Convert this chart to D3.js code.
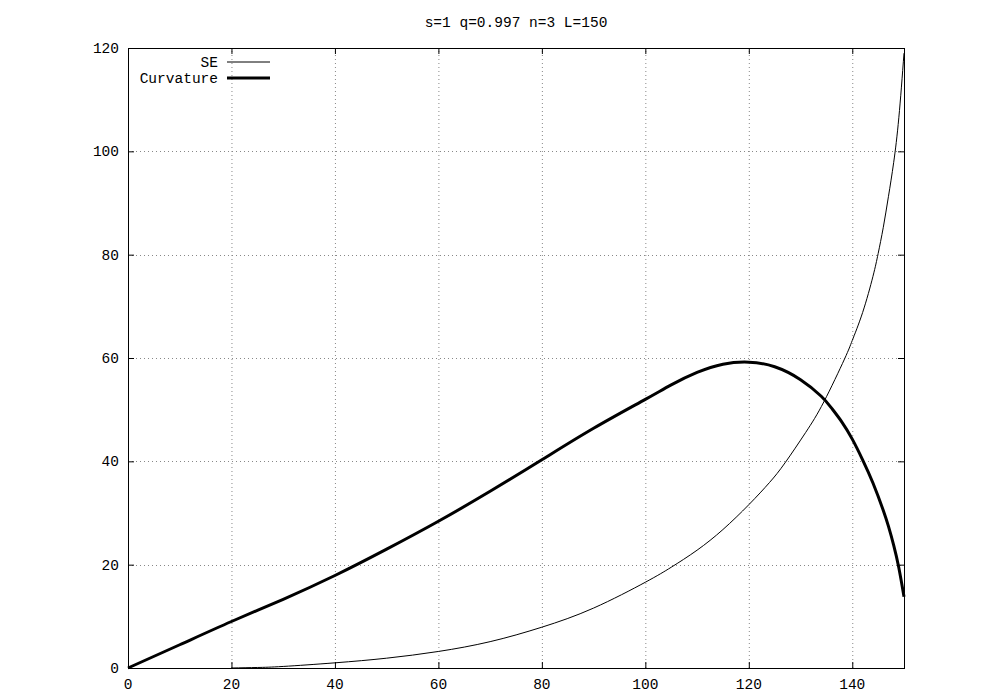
<!DOCTYPE html>
<html>
<head>
<meta charset="utf-8">
<script src="https://cdn.jsdelivr.net/npm/d3@7"></script>
<style>
  body { margin: 0; background: #fff; }
  svg text { font-family: "Liberation Mono", "DejaVu Sans Mono", monospace; font-size: 14.5px; fill: #000; }
</style>
</head>
<body>
<svg id="chart" width="1000" height="700"></svg>
<script>
// values
let chartTitle = "s=1 q=0.997 n=3 L=150";
let xTicks = [0, 20, 40, 60, 80, 100, 120, 140];
let yTicks = [0, 20, 40, 60, 80, 100, 120];

let seX = [20, 25, 30, 40, 50, 60, 70, 80, 90, 100, 105, 110, 115, 120, 124, 127, 131, 134.5, 138.5, 140, 142, 144, 145, 146, 147, 148, 149, 150];
let seY = [0, 0.1, 0.3, 1.0, 1.9, 3.2, 5.1, 7.9, 11.6, 16.6, 19.5, 22.8, 26.8, 31.6, 35.9, 39.7, 45.6, 51.5, 59.8, 63.4, 68.8, 75.8, 80.2, 85.3, 91.3, 97.8, 106.5, 119];

let curvX = [0, 10, 20, 30, 40, 50, 60, 70, 80, 90, 100, 105, 110, 115, 120, 125, 130, 134, 136, 138, 140, 142, 144, 146, 147, 148, 149, 150];
let curvY = [0, 4.5, 9.0, 13.3, 17.9, 23.0, 28.4, 34.2, 40.3, 46.4, 52.0, 54.8, 57.2, 58.8, 59.2, 58.3, 55.8, 52.6, 50.3, 47.6, 44.3, 40.3, 35.8, 30.5, 27.4, 23.8, 19.4, 13.8];

let series = [
  { name: "SE", xs: seX, ys: seY, width: 1 },
  { name: "Curvature", xs: curvX, ys: curvY, width: 3 }
];

function draw() {
  const svg = d3.select("#chart");
  let margin = ({ top: 48, right: 96, bottom: 32, left: 128 });
  let width = 1000, height = 700;

  let x = d3.scaleLinear().domain([0, 150]).range([margin.left, width - margin.right]);
  let y = d3.scaleLinear().domain([0, 120]).range([height - margin.bottom, margin.top]);

  // grid
  let grid = svg.append("g").attr("stroke", "#888").attr("stroke-dasharray", "1,3").attr("stroke-width", 1);
  xTicks.filter(t => t > 0).forEach(t => {
    grid.append("line").attr("x1", x(t) + 0.5).attr("x2", x(t) + 0.5).attr("y1", y(0)).attr("y2", y(120));
  });
  yTicks.filter(t => t > 0 && t < 120).forEach(t => {
    grid.append("line").attr("y1", Math.round(y(t)) + 0.5).attr("y2", Math.round(y(t)) + 0.5).attr("x1", x(0)).attr("x2", x(150));
  });

  // axes (ticks inward, mirrored)
  let tk = 6;
  svg.append("g").attr("transform", `translate(0,${y(0)})`)
    .call(d3.axisTop(x).tickValues(xTicks).tickSize(tk).tickFormat(""))
    .call(g => g.select(".domain").remove());
  svg.append("g").attr("transform", `translate(0,${y(120)})`)
    .call(d3.axisBottom(x).tickValues(xTicks).tickSize(tk).tickFormat(""))
    .call(g => g.select(".domain").remove());
  svg.append("g").attr("transform", `translate(${x(0)},0)`)
    .call(d3.axisRight(y).tickValues(yTicks).tickSize(tk).tickFormat(""))
    .call(g => g.select(".domain").remove());
  svg.append("g").attr("transform", `translate(${x(150)},0)`)
    .call(d3.axisLeft(y).tickValues(yTicks).tickSize(tk).tickFormat(""))
    .call(g => g.select(".domain").remove());
  svg.selectAll(".tick line").attr("stroke", "#000");

  // tick labels
  svg.append("g").selectAll("text").data(xTicks).join("text")
    .attr("x", d => x(d)).attr("y", y(0) + 21)
    .attr("text-anchor", "middle").text(d => d);
  svg.append("g").selectAll("text").data(yTicks).join("text")
    .attr("x", x(0) - 9).attr("y", d => y(d) + 5)
    .attr("text-anchor", "end").text(d => d);

  // border
  svg.append("rect")
    .attr("x", x(0) + 0.5).attr("y", y(120) + 0.5)
    .attr("width", x(150) - x(0)).attr("height", y(0) - y(120))
    .attr("fill", "none").attr("stroke", "#000").attr("stroke-width", 1);

  // curves
  let line = d3.line().curve(d3.curveNatural).x(d => x(d[0])).y(d => y(d[1]));
  for (let s of series) {
    let pts = s.xs.map((v, i) => [v, s.ys[i]]);
    svg.append("path").datum(pts)
      .attr("fill", "none").attr("stroke", "#000")
      .attr("stroke-width", s.width).attr("stroke-linejoin", "round")
      .attr("d", line);
  }

  // legend
  let lg = svg.append("g");
  series.forEach((s, i) => {
    let ly = 62 + i * 16;
    lg.append("text").attr("x", 218).attr("y", ly + 5).attr("text-anchor", "end").text(s.name);
    lg.append("line").attr("x1", 227).attr("x2", 270).attr("y1", ly).attr("y2", ly)
      .attr("stroke", "#000").attr("stroke-width", s.width);
  });

  // title
  svg.append("text").attr("x", 516).attr("y", 27).attr("text-anchor", "middle").text(chartTitle);
}

draw();
</script>
</body>
</html>
